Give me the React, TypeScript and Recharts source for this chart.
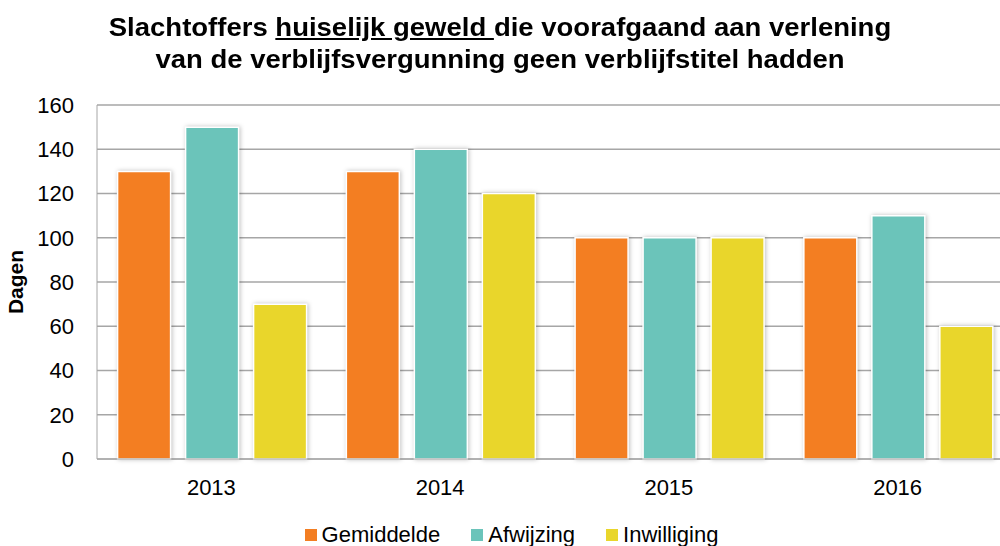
import { BarChart, Bar, XAxis, YAxis, CartesianGrid, Label } from 'recharts';

const years = ['2013', '2014', '2015', '2016'];
const gemiddelde = [130, 130, 100, 100];
const afwijzing = [150, 140, 100, 110];
const inwilliging = [70, 120, 100, 60];
const yTicks = [0, 20, 40, 60, 80, 100, 120, 140, 160];

const series = [
  { key: 'Gemiddelde', color: '#F37E22' },
  { key: 'Afwijzing', color: '#6BC4BA' },
  { key: 'Inwilliging', color: '#E9D62B' },
];

const data = years.map((y, i) => ({
  year: y,
  Gemiddelde: gemiddelde[i],
  Afwijzing: afwijzing[i],
  Inwilliging: inwilliging[i],
}));

const font = 'Arial, "Liberation Sans", sans-serif';

export default function App() {
  return (
    <div style={{ position: 'absolute', left: 0, top: 0, width: 1000, height: 546, overflow: 'hidden', background: '#fff', fontFamily: font }}>
      <div style={{ position: 'absolute', top: 11, left: 0, width: 1000, textAlign: 'center', fontWeight: 'bold', fontSize: 25, lineHeight: '32px', color: '#000', transform: 'scaleX(1.1)', transformOrigin: '500px 0' }}>
        Slachtoffers <span style={{ textDecoration: 'underline' }}>huiselijk geweld </span>die voorafgaand aan verlening
        <br />
        van de verblijfsvergunning geen verblijfstitel hadden
      </div>
      <BarChart
        width={1012}
        height={546}
        data={data}
        margin={{ top: 105, right: 0, bottom: 57, left: 0 }}
        barCategoryGap="9%"
        barGap={15}
      >
        <CartesianGrid vertical={false} stroke="#A6A6A6" strokeWidth={1.3} />
        <XAxis
          dataKey="year"
          height={30}
          stroke="#A6A6A6"
          tickLine={false}
          tickMargin={14}
          tick={{ fill: '#000', fontSize: 22, fontFamily: font }}
        />
        <YAxis
          width={97}
          domain={[0, 160]}
          ticks={yTicks}
          stroke="#A6A6A6"
          tickLine={false}
          tickMargin={17}
          tick={{ fill: '#000', fontSize: 22, fontFamily: font }}
        >
          <Label value="Dagen" angle={-90} position="insideLeft" offset={16} style={{ fontWeight: 'bold', fontSize: 21, fill: '#000', fontFamily: font, textAnchor: 'middle' }} />
        </YAxis>
        {series.map((s) => (
          <Bar
            key={s.key}
            dataKey={s.key}
            fill={s.color}
            stroke="#fff"
            strokeWidth={1.5}
            isAnimationActive={false}
            style={{ filter: 'drop-shadow(1px 0px 2px rgba(0,0,0,0.25))' }}
          />
        ))}
      </BarChart>
      <div style={{ position: 'absolute', top: 522, left: 0, width: 1023, display: 'flex', justifyContent: 'center', fontSize: 22, color: '#000' }}>
        {series.map((s, i) => (
          <div key={s.key} style={{ display: 'flex', alignItems: 'center', marginLeft: i === 0 ? 0 : 31 }}>
            <span style={{ display: 'inline-block', width: 12, height: 12, background: s.color, marginRight: 5 }} />
            <span>{s.key}</span>
          </div>
        ))}
      </div>
    </div>
  );
}
